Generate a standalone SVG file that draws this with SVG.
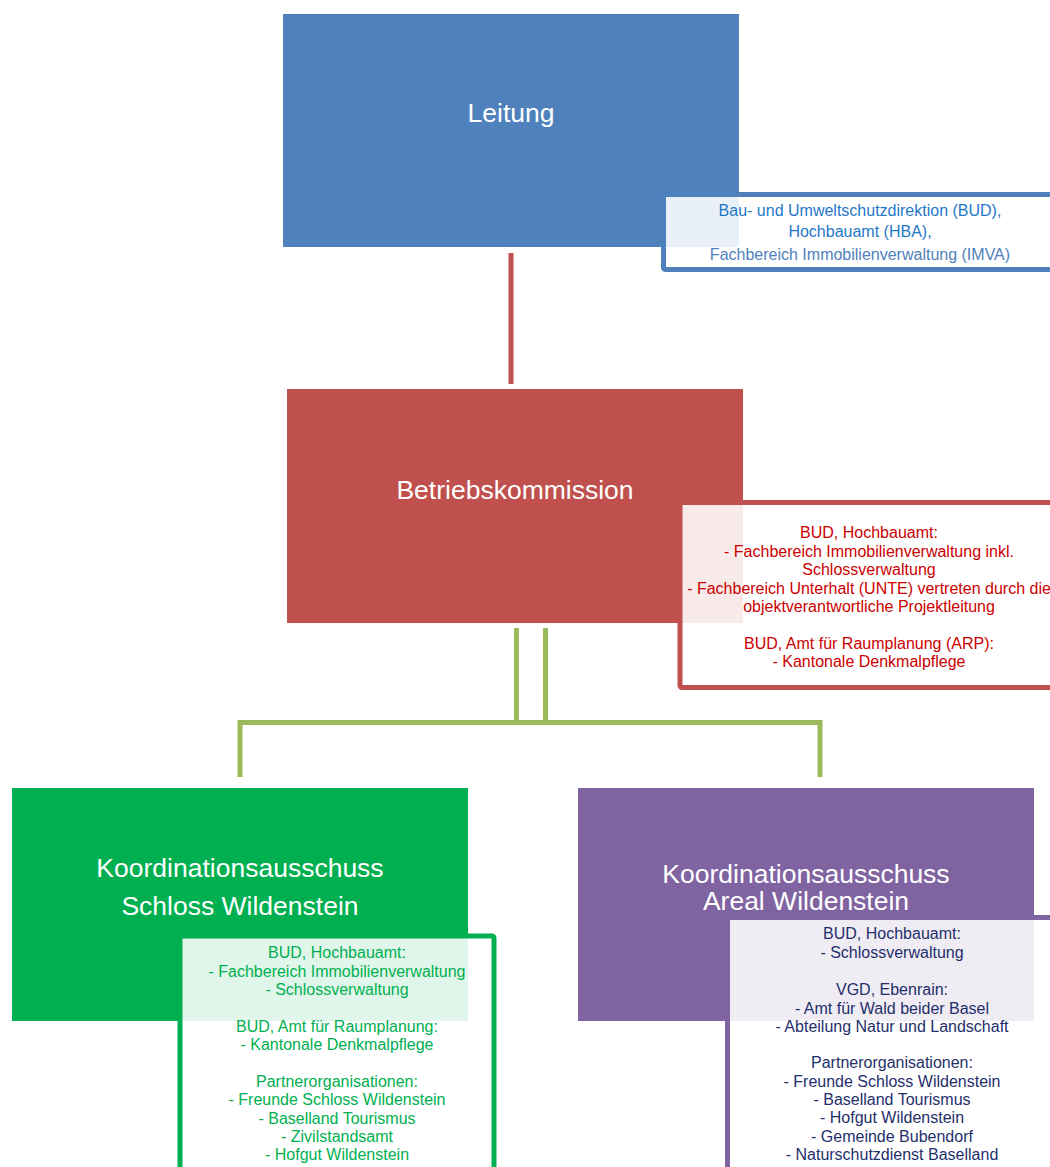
<svg xmlns="http://www.w3.org/2000/svg" width="1050" height="1167" viewBox="0 0 1050 1167">
<style>
.title{font-family:"Liberation Sans",Arial,sans-serif;font-size:26.5px;fill:#fff;text-anchor:middle}
.info{font-family:"Liberation Sans",Arial,sans-serif;font-size:16px;text-anchor:middle}
.ib{fill:#fff;fill-opacity:0.88;stroke-width:5}
.conn{fill:none;stroke-width:5}
</style>
<rect width="1050" height="1167" fill="#fff"/>
<g id="connectors">
<line class="conn" x1="511" y1="253" x2="511" y2="384" stroke="#C0504D"/>
<path class="conn" stroke="#9BBB59" d="M516.5 628 V722.5 M545.5 628 V722.5 M240 777 V722.5 H820 V777"/>
</g>
<g id="leitung">
<rect x="283" y="14" width="456" height="233" fill="#4F81BD"/>
<text class="title" x="511" y="122">Leitung</text>
<rect class="ib" x="663.5" y="194.5" width="400" height="75" rx="2" stroke="#4F81BD"/>
<text class="info" x="860" y="216" fill="#1F78C8">Bau- und Umweltschutzdirektion (BUD),</text>
<text class="info" x="860" y="237" fill="#1F78C8">Hochbauamt (HBA),</text>
<text class="info" x="860" y="260" fill="#4F81BD">Fachbereich Immobilienverwaltung (IMVA)</text>
</g>
<g id="betriebskommission">
<rect x="287" y="389" width="456" height="234" fill="#C0504D"/>
<text class="title" x="515" y="499">Betriebskommission</text>
<rect class="ib" x="680" y="502.5" width="400" height="185" rx="2" stroke="#C0504D"/>
<g class="info" fill="#CC0000">
<text x="869" y="538">BUD, Hochbauamt:</text>
<text x="869" y="557">- Fachbereich Immobilienverwaltung inkl.</text>
<text x="869" y="575">Schlossverwaltung</text>
<text x="869" y="594">- Fachbereich Unterhalt (UNTE) vertreten durch die</text>
<text x="869" y="612">objektverantwortliche Projektleitung</text>
<text x="869" y="649">BUD, Amt für Raumplanung (ARP):</text>
<text x="869" y="667">- Kantonale Denkmalpflege</text>
</g>
</g>
<g id="koord-schloss">
<rect x="12" y="788" width="456" height="233" fill="#00B050"/>
<text class="title" x="240" y="877">Koordinationsausschuss</text>
<text class="title" x="240" y="915">Schloss Wildenstein</text>
<rect class="ib" x="180" y="936" width="314" height="260" rx="2" stroke="#00B050"/>
<g class="info" fill="#00B050">
<text x="337" y="958">BUD, Hochbauamt:</text>
<text x="337" y="977">- Fachbereich Immobilienverwaltung</text>
<text x="337" y="995">- Schlossverwaltung</text>
<text x="337" y="1032">BUD, Amt für Raumplanung:</text>
<text x="337" y="1050">- Kantonale Denkmalpflege</text>
<text x="337" y="1087">Partnerorganisationen:</text>
<text x="337" y="1105">- Freunde Schloss Wildenstein</text>
<text x="337" y="1124">- Baselland Tourismus</text>
<text x="337" y="1142">- Zivilstandsamt</text>
<text x="337" y="1160">- Hofgut Wildenstein</text>
</g>
</g>
<g id="koord-areal">
<rect x="578" y="788" width="456" height="233" fill="#8064A2"/>
<text class="title" x="806" y="883">Koordinationsausschuss</text>
<text class="title" x="806" y="910">Areal Wildenstein</text>
<rect class="ib" x="727.5" y="917.5" width="340" height="280" rx="2" stroke="#8064A2"/>
<g class="info" fill="#1F2F6B">
<text x="892" y="939">BUD, Hochbauamt:</text>
<text x="892" y="958">- Schlossverwaltung</text>
<text x="892" y="995">VGD, Ebenrain:</text>
<text x="892" y="1014">- Amt für Wald beider Basel</text>
<text x="892" y="1032">- Abteilung Natur und Landschaft</text>
<text x="892" y="1068">Partnerorganisationen:</text>
<text x="892" y="1087">- Freunde Schloss Wildenstein</text>
<text x="892" y="1105">- Baselland Tourismus</text>
<text x="892" y="1123">- Hofgut Wildenstein</text>
<text x="892" y="1142">- Gemeinde Bubendorf</text>
<text x="892" y="1160">- Naturschutzdienst Baselland</text>
</g>
</g>
</svg>
